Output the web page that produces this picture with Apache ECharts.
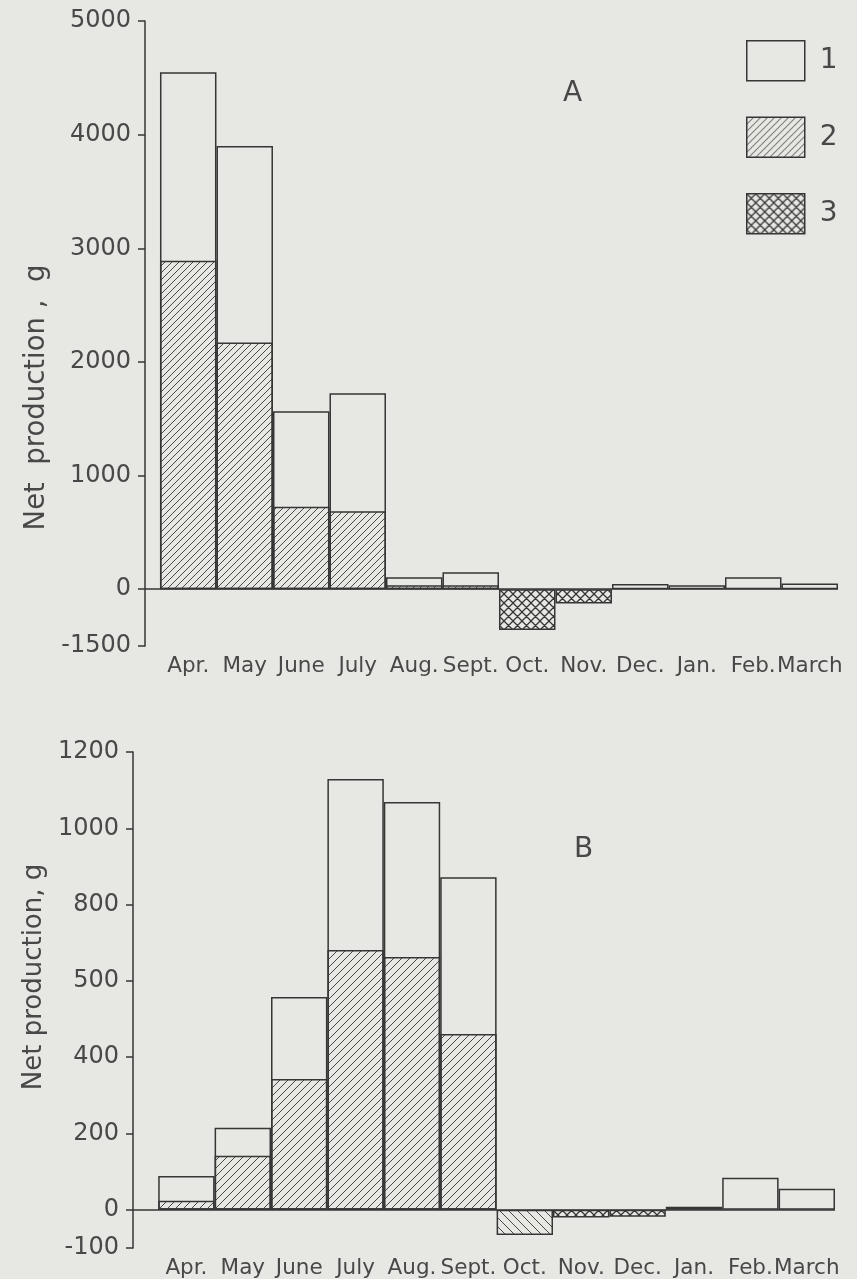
<!DOCTYPE html>
<html><head><meta charset="utf-8">
<script src="https://cdn.jsdelivr.net/npm/echarts@6/dist/echarts.min.js"></script>
<style>html,body{margin:0;padding:0;background:#e7e7e3}#c{width:857px;height:1279px}</style>
</head><body><div id="c"></div>
<script>
// ---- data ----
const months = ['Apr.','May','June','July','Aug.','Sept.','Oct.','Nov.','Dec.','Jan.','Feb.','March'];
const aTotal = [4550, 3900, 1565, 1725, 105, 150, null, null, 45, 35, 105, 50];
const aPart2 = [2890, 2170, 725, 685, 35, 35, null, null, null, null, null, null];
const aPart3 = [null, null, null, null, null, null, -360, -125, null, null, null, null];
const bTotal = [89, 215, 558, 1129, 1069, 872, null, null, null, 8, 84, 55];
const bPart2 = [24, 142, 343, 681, 663, 461, null, null, null, null, null, null];
const bPart3 = [null, null, null, null, null, null, -66, -20, -18, null, null, null];
const aTickValues = [-500, 0, 1000, 2000, 3000, 4000, 5000];
const aTickLabels = ['-1500', '0', '1000', '2000', '3000', '4000', '5000'];
const bTickValues = [-100, 0, 200, 400, 600, 800, 1000, 1200];
const bTickLabels = ['-100', '0', '200', '400', '500', '800', '1000', '1200'];
const seriesNames = ['1', '2', '3'];

// ---- styles ----
const PAPER = '#e7e7e3', INK = '#363636', TXT = '#484848';
const FONT = 'DejaVu Sans';
function hatch(size, dirs, lw) {
  const c = document.createElement('canvas');
  c.width = c.height = size;
  const g = c.getContext('2d');
  g.strokeStyle = INK; g.lineWidth = lw; g.beginPath();
  if (dirs.indexOf('/') >= 0) {
    g.moveTo(-1, size + 1); g.lineTo(size + 1, -1);
    g.moveTo(-1, 1); g.lineTo(1, -1);
    g.moveTo(size - 1, size + 1); g.lineTo(size + 1, size - 1);
  }
  if (dirs.indexOf('\\') >= 0) {
    g.moveTo(-1, -1); g.lineTo(size + 1, size + 1);
    g.moveTo(size - 1, -1); g.lineTo(size + 1, 1);
    g.moveTo(-1, size - 1); g.lineTo(1, size + 1);
  }
  g.stroke();
  return { image: c, repeat: 'repeat' };
}
const patSlashA = hatch(7, '/', 0.9);
const patSlashB = hatch(8, '/', 0.9);
const patCross = hatch(9, '/\\', 1.3);
const patBack = hatch(9, '\\', 0.9);

function pts(arr) {
  const out = [];
  arr.forEach((v, i) => { if (v !== null) out.push([i + 0.5, v]); });
  return out;
}
const barBase = (name, data, color, xi, yi) => ({
  type: 'bar', name: name, xAxisIndex: xi, yAxisIndex: yi,
  data: data, barWidth: '100%', barGap: '-100%',
  itemStyle: { color: color, borderColor: INK, borderWidth: 1.5 },
  emphasis: { disabled: true }, silent: true, animation: false
});
const zeroLine = { symbol: 'none', silent: true, label: { show: false },
  lineStyle: { color: INK, width: 1.5, type: 'solid' }, data: [{ yAxis: 0 }] };

const xCenters = months.map((m, i) => i + 0.5);
function xAxisOpt(gi, min) {
  return {
    type: 'value', gridIndex: gi, min: min, max: 12,
    axisLine: { show: false }, axisTick: { show: false }, splitLine: { show: false },
    axisLabel: { customValues: xCenters, formatter: v => months[Math.floor(v)],
      fontSize: 21.5, color: TXT, margin: 9, fontFamily: FONT, hideOverlap: false }
  };
}
function yAxisOpt(gi, min, max, vals, labs, name, gap, pad, nfs) {
  return {
    type: 'value', gridIndex: gi, min: min, max: max,
    axisLine: { show: true, onZero: false, lineStyle: { color: INK, width: 1.5 } },
    axisTick: { show: true, length: 7, customValues: vals, lineStyle: { color: INK, width: 1.5 } },
    axisLabel: { customValues: vals, formatter: v => labs[vals.indexOf(v)],
      fontSize: 24, color: TXT, margin: 14, fontFamily: FONT },
    splitLine: { show: false },
    name: name, nameLocation: 'middle', nameGap: gap,
    nameTextStyle: { fontSize: nfs, color: TXT, fontFamily: FONT, padding: pad }
  };
}

const sA1 = barBase(seriesNames[0], pts(aTotal), PAPER, 0, 0);
sA1.markLine = zeroLine;
const sA2 = barBase(seriesNames[1], pts(aPart2), patSlashA, 0, 0);
const sA3 = barBase(seriesNames[2], pts(aPart3), patCross, 0, 0);
const sB1 = barBase(seriesNames[0], pts(bTotal), PAPER, 1, 1);
sB1.markLine = zeroLine;
const sB2 = barBase(seriesNames[1], pts(bPart2), patSlashB, 1, 1);
const sB3 = barBase(seriesNames[2], pts(bPart3).map((p, k) =>
  k === 0 ? { value: p, itemStyle: { color: patBack } } : p), patCross, 1, 1);

const chart = echarts.init(document.getElementById('c'), null, { renderer: 'canvas' });
chart.setOption({
  backgroundColor: PAPER,
  animation: false,
  textStyle: { fontFamily: FONT },
  grid: [
    { left: 145, width: 693, top: 21, height: 625 },
    { left: 133, width: 702, top: 752, height: 496 }
  ],
  xAxis: [xAxisOpt(0, -0.265), xAxisOpt(1, -0.447)],
  yAxis: [
    yAxisOpt(0, -500, 5000, aTickValues, aTickLabels, 'Net  production ,  g', 92, [0, 128, 0, 0], 27.5),
    yAxisOpt(1, -100, 1200, bTickValues, bTickLabels, 'Net production, g', 58, [0, 0, 0, 46], 26)
  ],
  legend: {
    data: seriesNames, orient: 'vertical', left: 741, top: 35,
    itemWidth: 58, itemHeight: 40, itemGap: 35, icon: 'rect',
    selectedMode: false,
    itemStyle: { borderColor: INK, borderWidth: 1.5 },
    textStyle: { fontSize: 28, color: TXT, fontFamily: FONT, padding: [0, 0, 0, 10] }
  },
  graphic: [
    { type: 'text', left: 563, top: 80, style: { text: 'A', fontSize: 28, fill: TXT, fontFamily: FONT } },
    { type: 'text', left: 574, top: 836, style: { text: 'B', fontSize: 28, fill: TXT, fontFamily: FONT } }
  ],
  series: [sA1, sA2, sA3, sB1, sB2, sB3]
});
</script></body></html>
